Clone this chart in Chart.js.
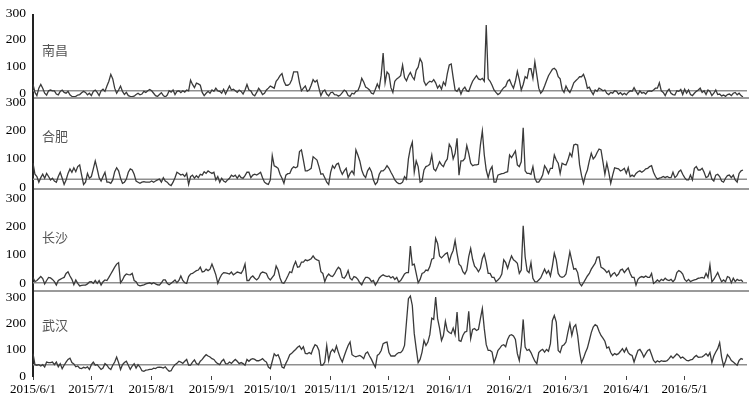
<!DOCTYPE html>
<html><head><meta charset="utf-8">
<script src="https://cdn.jsdelivr.net/npm/chart.js@4.4.0/dist/chart.umd.min.js"></script>
<style>
html,body{margin:0;padding:0;background:#fff;}
#wrap{position:relative;width:749px;height:398px;overflow:hidden;background:#fff;}
#wrap canvas{position:absolute;left:0;top:0;}
</style></head><body>
<div id="wrap">
<canvas id="c0" width="749" height="398"></canvas>
<canvas id="c1" width="749" height="398"></canvas>
<canvas id="c2" width="749" height="398"></canvas>
<canvas id="c3" width="749" height="398"></canvas>
</div>
<script>
const cities = ['南昌', '合肥', '长沙', '武汉'];
const yTicks = [0, 100, 200, 300];
const monthTicks = ['2015/6/1','2015/7/1','2015/8/1','2015/9/1','2015/10/1','2015/11/1','2015/12/1','2016/1/1','2016/2/1','2016/3/1','2016/4/1','2016/5/1'];
const thresholds = [27, 34, 29, 43];

const nanchang = [
51,21,9,37,51,37,18,11,27,30, 27,27,15,12,25,30,21,18,25,12,
6,5,6,11,13,20,25,21,12,18, 9,25,30,21,9,27,33,25,45,63,
89,72,37,18,30,45,25,13,21,9, 6,5,7,13,18,12,15,25,21,27,
32,27,18,9,6,13,20,9,4,11, 27,22,30,13,25,27,20,27,22,30,
27,67,51,39,56,53,48,21,9,18, 25,18,30,25,37,27,25,18,33,15,
30,45,30,33,27,21,30,25,15,30, 51,30,27,13,8,21,37,27,13,18,
30,37,45,41,37,63,72,84,92,63, 48,48,53,69,98,98,98,57,27,37,
45,25,30,48,69,60,67,37,9,25, 30,15,8,20,22,13,12,7,11,20,
30,25,9,6,18,15,25,27,45,74, 60,41,37,30,18,15,33,53,37,86,
169,57,98,89,39,21,63,72,77,84, 124,77,65,84,96,80,69,104,116,148,
133,63,48,57,63,60,69,57,37,48, 33,60,48,92,124,128,77,30,25,37,
15,33,41,27,25,45,63,74,84,72, 69,74,63,275,72,63,48,30,21,13,
18,30,39,44,63,69,51,37,63,100, 69,30,51,80,74,110,110,74,136,86,
37,18,27,45,65,84,96,108,112,104, 80,72,33,21,45,30,21,37,57,65,
72,80,80,89,69,37,41,25,13,30, 25,37,33,27,30,18,13,21,18,27,
25,15,20,12,18,12,21,27,25,39, 25,13,27,18,21,15,25,27,25,30,
37,37,57,27,21,9,25,33,18,13, 11,27,25,32,13,33,18,30,13,9,
18,25,30,37,21,27,13,30,25,9, 18,30,13,15,8,11,6,13,15,9,
18,21,12,18,9,4];

const hefei = [
91,52,44,24,40,52,38,55,44,32, 38,28,24,44,59,38,16,32,55,71,
59,75,61,79,85,49,16,24,55,38, 44,71,99,71,40,28,44,59,24,24,
20,32,61,75,64,38,20,24,35,59, 71,67,52,28,24,20,24,26,24,24,
24,28,24,28,32,35,24,40,28,24, 16,12,24,40,59,55,49,52,44,55,
16,44,49,38,47,40,52,49,61,55, 64,59,55,59,32,44,24,38,28,24,
32,38,49,44,49,38,49,40,38,47, 59,59,40,49,52,49,54,59,40,24,
19,16,32,118,82,78,73,52,38,20, 49,54,55,71,78,75,79,132,138,102,
64,64,68,73,114,108,102,79,52,54, 40,24,16,59,82,73,87,91,67,52,
64,73,40,55,64,52,138,120,99,67, 49,40,64,75,61,32,16,24,52,64,
64,71,82,73,59,47,32,24,19,19, 24,44,35,106,144,165,59,99,79,24,
28,67,79,82,87,120,71,64,79,96, 85,79,96,106,158,146,106,126,179,49,
99,99,108,153,126,91,82,85,85,87, 155,205,120,67,40,67,79,24,24,49,
52,54,55,59,61,120,111,122,134,85, 79,96,216,64,55,55,52,79,38,24,
24,35,49,82,71,55,73,73,120,102, 91,55,91,87,85,102,126,114,155,158,
155,85,47,20,49,67,99,126,106,114, 129,141,138,96,52,91,59,20,49,75,
73,71,64,67,73,55,75,44,49,44, 55,61,64,59,64,71,73,79,82,59,
44,35,38,40,44,40,44,40,40,59, 40,47,61,67,52,40,32,32,49,32,
73,79,67,67,73,59,40,44,61,35, 28,49,52,44,28,24,38,47,49,40,
49,32,24,55,64,67];

const changsha = [
48,33,37,44,51,44,25,37,48,46, 41,33,21,37,41,45,48,62,68,53,
41,22,39,27,18,20,21,21,25,32, 33,27,37,27,37,21,33,39,37,48,
60,72,84,95,100,29,39,53,60,58, 57,62,37,33,21,18,20,22,25,27,
29,25,29,25,22,21,29,39,39,27, 22,27,33,39,29,37,53,37,29,27,
51,60,62,67,72,74,84,67,69,77, 72,77,95,77,57,27,45,58,65,64,
62,60,67,57,62,67,65,62,74,95, 37,37,48,53,45,39,46,62,67,65,
62,46,39,48,57,88,74,46,29,27, 39,53,68,65,88,104,84,86,102,102,
110,107,110,114,124,114,110,107,68,62, 33,51,60,53,51,60,74,84,77,48,
45,55,72,45,39,51,48,41,29,22, 37,48,48,44,33,37,21,32,46,53,
57,53,51,53,46,51,41,48,32,37, 48,60,65,65,159,92,95,62,29,41,
62,65,74,72,86,112,115,186,168,124, 117,124,131,135,104,127,143,178,133,95,
88,68,60,74,121,150,112,88,80,68, 80,115,131,100,62,62,48,48,33,39,
46,60,110,100,80,104,124,110,105,98, 62,74,230,121,72,65,100,45,33,32,
39,46,62,77,62,72,53,88,133,110, 62,51,48,51,60,98,138,107,77,79,
65,27,18,29,41,53,62,77,88,98, 119,121,84,80,74,65,72,51,60,65,
53,60,74,77,65,74,81,62,48,48, 21,41,48,51,48,53,48,48,62,27,
32,39,33,41,37,45,39,37,41,33, 41,65,72,68,60,41,34,41,33,37,
39,41,45,46,48,45,62,48,92,32, 41,53,65,48,33,39,33,51,48,29,
45,33,41,37,39,33];

const wuhan = [
85,43,41,43,38,43,34,53,51,51, 53,43,53,35,47,28,41,53,63,68,
51,46,35,38,30,28,33,30,35,25, 43,53,41,43,34,25,30,47,41,30,
25,41,53,72,51,25,43,51,56,41, 25,38,47,30,43,34,20,18,22,23,
25,25,30,28,33,34,33,30,35,25, 18,20,34,43,48,56,53,48,56,63,
41,41,53,61,47,43,56,63,73,81, 76,72,66,63,53,47,43,56,63,47,
46,53,48,56,63,56,47,51,47,41, 63,56,63,66,63,58,58,61,66,58,
53,34,28,56,84,76,81,63,34,30, 48,63,81,86,94,101,109,114,101,111,
86,84,89,84,104,119,114,97,41,41, 53,116,59,91,101,91,114,89,68,53,
76,97,116,129,81,76,73,76,78,73, 66,86,91,76,63,47,33,78,84,97,
123,127,129,89,76,76,76,84,89,89, 97,116,205,294,304,268,161,104,51,63,
91,135,116,129,157,220,215,300,218,182, 135,154,208,172,165,161,182,157,243,135,
132,154,167,170,246,142,177,180,173,177, 218,256,180,119,97,97,91,51,71,97,
106,116,119,111,139,154,157,152,139,85, 59,116,215,110,97,101,89,72,56,47,
89,97,101,91,101,94,123,211,230,205, 97,89,114,119,129,167,199,154,186,195,
154,91,51,68,89,106,135,165,186,195, 190,170,154,144,132,106,110,89,78,85,
81,85,94,104,91,106,89,81,78,53, 76,97,101,89,72,85,97,101,81,59,
51,58,53,58,56,56,58,66,76,68, 76,84,78,68,72,66,59,58,61,63,
72,78,71,72,73,78,85,76,89,51, 76,91,104,127,72,38,56,81,72,59,
53,47,41,59,66,63];

const series = [nanchang, hefei, changsha, wuhan];

// daily category labels 2015/6/1 .. 2016/5/31
const dates = [];
for (let t = Date.UTC(2015, 5, 1); t <= Date.UTC(2016, 4, 31); t += 86400000) {
  const d = new Date(t);
  dates.push(d.getUTCFullYear() + '/' + (d.getUTCMonth() + 1) + '/' + d.getUTCDate());
}

// panel geometry (pixels) — layout only
const layoutP = [
  {top: 10,  bottom: 98,  max: 312, lo: -5, nameY: 50},
  {top: 98,  bottom: 189, max: 321, lo: -2, nameY: 136},
  {top: 189, bottom: 291, max: 360, lo: -8, nameY: 237},
  {top: 291, bottom: 376, max: 323, lo: 0,  nameY: 325}
];

const serif = 'Liberation Serif, Times New Roman, serif';

function makePanelPlugin(i) {
  return {
    id: 'panel' + i,
    beforeDatasetsDraw(chart) {
      const {ctx, chartArea, scales} = chart;
      const y = scales.y.getPixelForValue(thresholds[i]);
      ctx.save();
      ctx.strokeStyle = '#8f8f8f';
      ctx.lineWidth = 1.5;
      ctx.beginPath();
      ctx.moveTo(chartArea.left, y);
      ctx.lineTo(chart.width - 2, y);
      ctx.stroke();
      ctx.restore();
    },
    afterDraw(chart) {
      const {ctx, chartArea} = chart;
      ctx.save();
      if (i < 3) {
        ctx.strokeStyle = '#9a9a9a';
        ctx.lineWidth = 2;
        ctx.beginPath();
        ctx.moveTo(chartArea.left, chartArea.bottom);
        ctx.lineTo(chart.width, chartArea.bottom);
        ctx.stroke();
      }
      ctx.fillStyle = '#555';
      ctx.font = '13px "Noto Sans CJK SC"';
      ctx.textBaseline = 'middle';
      ctx.textAlign = 'left';
      ctx.fillText(cities[i], chartArea.left + 9, layoutP[i].nameY);
      ctx.restore();
    }
  };
}

series.forEach((data, i) => {
  const P = layoutP[i];
  const last = i === 3;
  new Chart(document.getElementById('c' + i), {
    type: 'line',
    data: {
      labels: dates,
      datasets: [{
        label: cities[i],
        data: data,
        borderColor: '#3a3a3a',
        borderWidth: 1.3,
        pointRadius: 0,
        tension: 0,
        fill: false
      }]
    },
    options: {
      responsive: false,
      animation: false,
      devicePixelRatio: 1,
      layout: {padding: {left: 0, right: 6, top: P.top, bottom: last ? 0 : 398 - P.bottom}},
      plugins: {legend: {display: false}, tooltip: {enabled: false}},
      scales: {
        x: {
          display: last,
          grid: {display: true, drawOnChartArea: false, drawTicks: true, tickLength: 4, color: '#444'},
          border: {display: false},
          ticks: {
            autoSkip: false, maxRotation: 0, minRotation: 0, padding: 2,
            font: {family: serif, size: 13}, color: '#000',
            callback: (v, idx) => monthTicks.includes(dates[idx]) ? dates[idx] : null
          },
          afterFit: s => { if (last) s.height = 22; }
        },
        y: {
          min: 0, max: P.max,
          afterBuildTicks: s => { s.ticks = yTicks.map(v => ({value: v})); },
          afterFit: s => { s.width = 33; },
          grid: {display: false, drawTicks: false},
          border: {display: true, color: '#222', width: 2},
          ticks: {padding: 7, labelOffset: P.lo, font: {family: serif, size: 13.5}, color: '#000'}
        }
      }
    },
    plugins: [makePanelPlugin(i)]
  });
});
</script>
</body></html>
